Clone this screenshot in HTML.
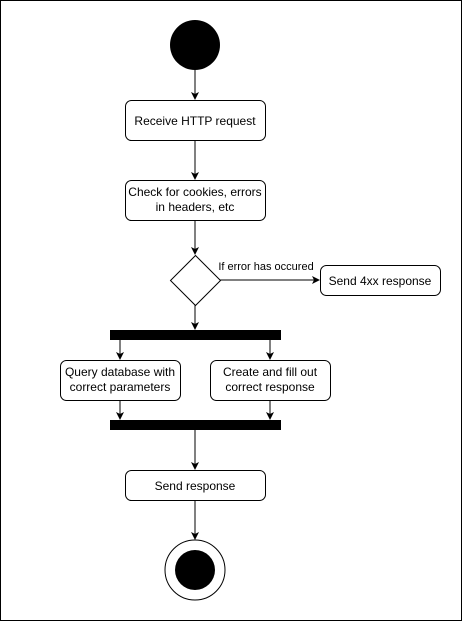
<!DOCTYPE html>
<html><head><style>html,body{margin:0;padding:0;background:#fff}</style></head>
<body>
<svg width="462" height="621" xmlns="http://www.w3.org/2000/svg" font-family="Liberation Sans, Arial, sans-serif" font-size="12">
<rect x="0.5" y="0.5" width="461" height="620" fill="#fff" stroke="#000"/>
<defs><marker id="a" markerWidth="8" markerHeight="8" refX="7" refY="4" orient="auto" markerUnits="userSpaceOnUse"><path d="M0,0 L8,4 L0,8 L2,4 Z" fill="#000"/></marker></defs>
<g stroke="#000" fill="none">
<line x1="195" y1="70" x2="195" y2="99" marker-end="url(#a)"/>
<line x1="195" y1="140" x2="195" y2="179" marker-end="url(#a)"/>
<line x1="195" y1="220" x2="195" y2="254" marker-end="url(#a)"/>
<line x1="220" y1="280" x2="319" y2="280" marker-end="url(#a)"/>
<line x1="195" y1="305" x2="195" y2="329" marker-end="url(#a)"/>
<line x1="120" y1="340" x2="120" y2="359" marker-end="url(#a)"/>
<line x1="270" y1="340" x2="270" y2="359" marker-end="url(#a)"/>
<line x1="120" y1="400" x2="120" y2="419" marker-end="url(#a)"/>
<line x1="270" y1="400" x2="270" y2="419" marker-end="url(#a)"/>
<line x1="195" y1="430" x2="195" y2="469" marker-end="url(#a)"/>
<line x1="195" y1="500" x2="195" y2="539" marker-end="url(#a)"/>
<rect x="125.5" y="100.5" width="140" height="40" rx="6"/>
<rect x="125.5" y="180.5" width="140" height="40" rx="6"/>
<polygon points="195.5,255.5 220.5,280.5 195.5,305.5 170.5,280.5"/>
<rect x="320.5" y="265.5" width="120" height="30" rx="6"/>
<rect x="60.5" y="360.5" width="120" height="40" rx="6"/>
<rect x="210.5" y="360.5" width="120" height="40" rx="6"/>
<rect x="125.5" y="470.5" width="140" height="30" rx="6"/>
<circle cx="195" cy="570" r="30"/>
</g>
<circle cx="195" cy="45" r="25" fill="#000"/>
<circle cx="195" cy="570" r="20" fill="#000"/>
<rect x="110" y="330" width="171" height="10" fill="#000"/>
<rect x="110" y="420" width="171" height="10" fill="#000"/>
<g text-anchor="middle" fill="#000">
<text x="195" y="125">Receive HTTP request</text>
<text x="195" y="196">Check for cookies, errors</text>
<text x="195" y="211">in headers, etc</text>
<text x="380" y="285">Send 4xx response</text>
<text x="120" y="376">Query database with</text>
<text x="120" y="391">correct parameters</text>
<text x="270" y="376">Create and fill out</text>
<text x="270" y="391">correct response</text>
<text x="195" y="490">Send response</text>
<text x="266" y="270" font-size="11">If error has occured</text>
</g>
</svg>
</body></html>
